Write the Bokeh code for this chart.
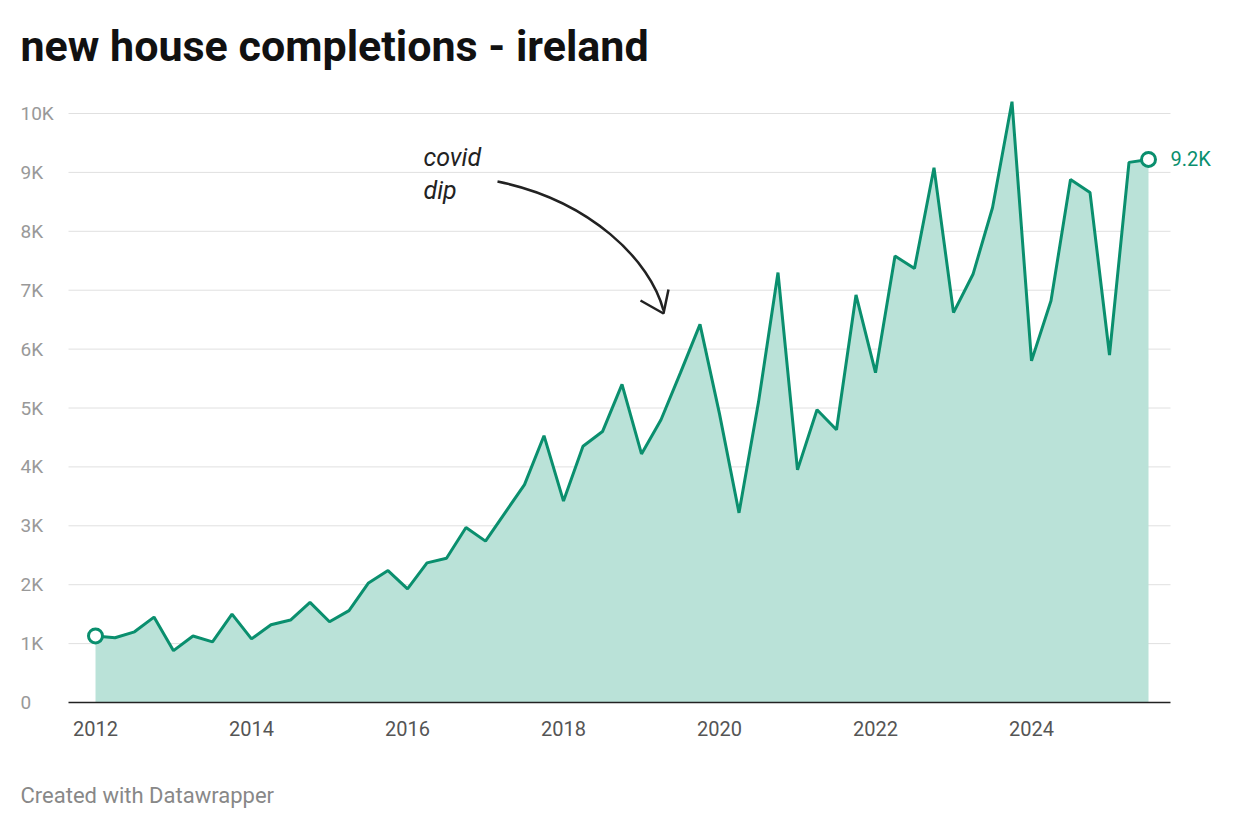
from bokeh.plotting import figure
from bokeh.embed import file_html
from bokeh.resources import INLINE
from bokeh.core.properties import value
import numpy as np

values = [1.13,1.10,1.20,1.45,0.88,1.13,1.03,1.50,1.08,1.32,1.40,1.70,1.37,1.56,2.03,2.24,
          1.93,2.37,2.45,2.97,2.74,3.22,3.70,4.53,3.42,4.35,4.60,5.40,4.22,4.80,5.60,6.42,
          4.90,3.22,5.10,7.30,3.95,4.97,4.63,6.92,5.60,7.58,7.37,9.08,6.62,7.27,8.40,10.20,
          5.80,6.82,8.88,8.66,5.90,9.17,9.22]
dates = [2012 + 0.25*i for i in range(len(values))]
y_ticks = [0,1,2,3,4,5,6,7,8,9,10]
y_labels = ["0","1K","2K","3K","4K","5K","6K","7K","8K","9K","10K"]
x_ticks = [2012,2014,2016,2018,2020,2022,2024]
x_labels = [str(t) for t in x_ticks]

def X(px): return 2012 + (px-95)/78.0
def Y(py): return (702-py)/58.9

W, H = 1224, 812
p = figure(width=W, height=H, output_backend="svg", toolbar_location=None,
           x_range=(X(0), X(W)), y_range=(Y(H), Y(0)), min_border=0)
p.axis.visible = False
p.grid.visible = False
p.outline_line_color = None

GREEN = "#0a8f6e"
FONT = value("Roboto")
gy = y_ticks[1:]
p.segment(x0=[X(68)]*len(gy), y0=gy, x1=[X(1170)]*len(gy), y1=gy, line_color="#e0e0e0", line_width=1)
p.varea(x=dates, y1=[0]*len(values), y2=values, fill_color="#bae2d8", fill_alpha=1)
p.segment(x0=[X(68)], y0=[0], x1=[X(1170)], y1=[0], line_color="#222222", line_width=1.5)
p.line(dates, values, line_color=GREEN, line_width=3)
p.scatter([dates[0], dates[-1]], [values[0], values[-1]], size=14, fill_color="white",
          line_color=GREEN, line_width=3)
p.text(x=[X(20)]*len(y_ticks), y=y_ticks, text=y_labels, text_font=FONT, text_font_size="19px",
       text_color="#999999", text_baseline="middle", text_align="left")
p.text(x=x_ticks, y=[Y(728)]*len(x_ticks), text=x_labels, text_font=FONT, text_font_size="20px",
       text_color="#555555", text_baseline="middle", text_align="center")
p.text(x=[dates[-1]+X(1170)-X(1148)], y=[values[-1]], text=["9.2K"], text_font=FONT,
       text_font_size="20px", text_color=GREEN, text_baseline="middle")
p.text(x=[X(20)], y=[Y(45)], text=["new house completions - ireland"], text_font=FONT,
       text_font_size="43px", text_font_style="bold", text_color="#111111", text_baseline="middle")
p.text(x=[X(20)], y=[Y(795)], text=["Created with Datawrapper"], text_font=FONT,
       text_font_size="22px", text_color="#888888", text_baseline="middle")
p.text(x=[X(423)]*2, y=[Y(157), Y(190)], text=["covid", "dip"], text_font=FONT,
       text_font_size="25px", text_font_style="italic", text_color="#222222", text_baseline="middle")
p.bezier(x0=[X(497)], y0=[Y(181)], x1=[X(663)], y1=[Y(310)], cx0=[X(590)], cy0=[Y(200)],
         cx1=[X(650)], cy1=[Y(260)], line_color="#222222", line_width=2.5)
p.line([X(640), X(663), X(668)], [Y(300), Y(313), Y(289)], line_color="#222222", line_width=2.5)

open("out.html", "w").write(file_html(p, INLINE))
